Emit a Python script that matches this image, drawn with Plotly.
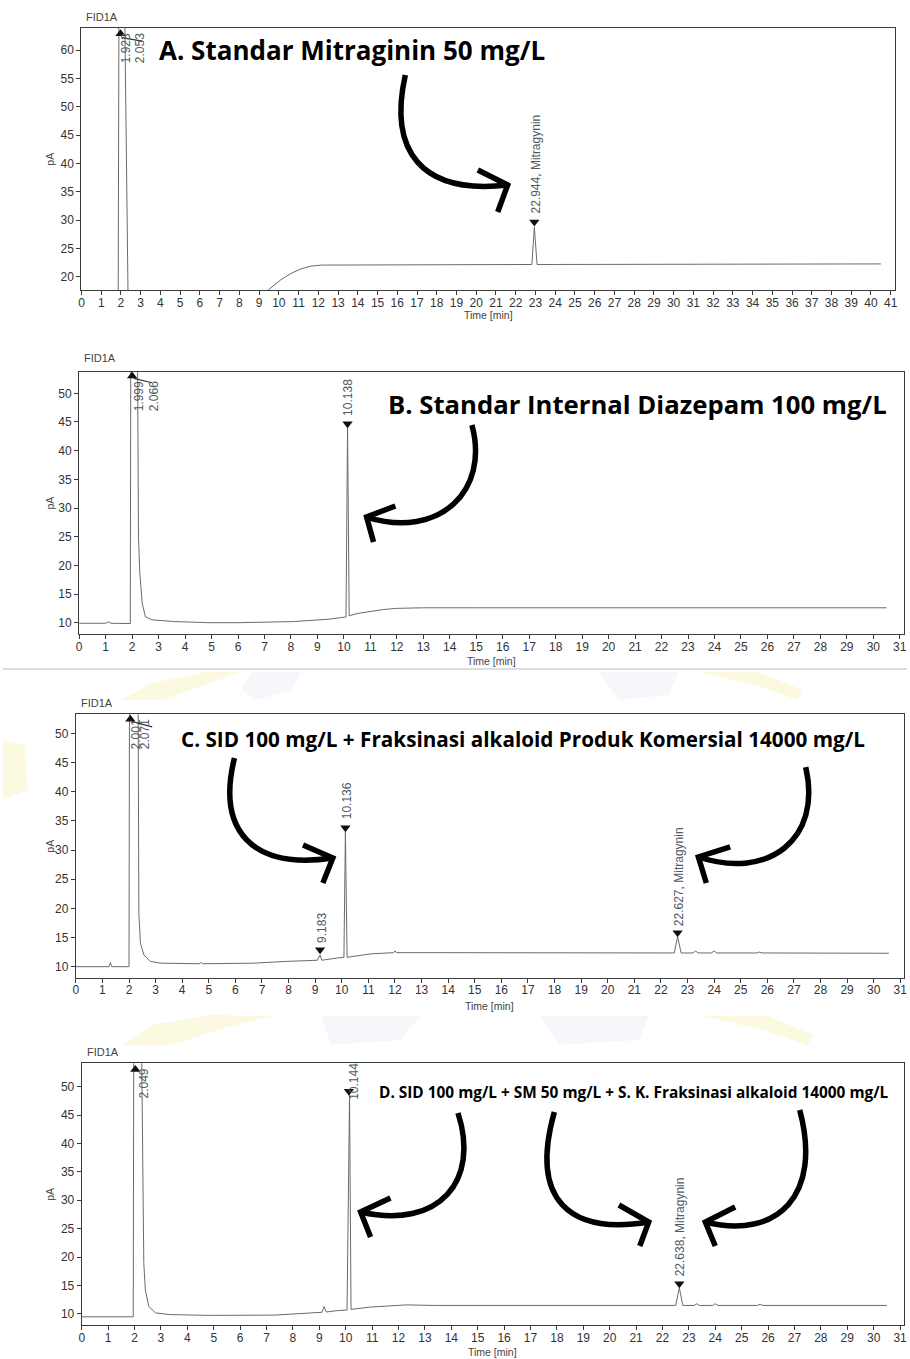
import plotly.graph_objects as go

W, H = 910, 1359

# ---------------- data ----------------
# Panel A: Standar Mitraginin 50 mg/L
tA = [0, 1.86, 1.90, 2.18, 2.36, 9.0, 9.46, 10.1, 10.6, 11.1, 11.6, 12.2, 13.0, 14.0, 16.0,
      18.0, 20.0, 22.0, 22.82, 22.944, 23.08, 24.0, 26.0, 30.0, 35.0, 40.5]
yA = [16.5, 16.5, 70, 70, 16.5, 16.5, 17.7, 19.5, 20.6, 21.4, 21.9, 22.1, 22.1, 22.1, 22.1,
      22.2, 22.2, 22.2, 22.2, 28.8, 22.2, 22.2, 22.2, 22.3, 22.3, 22.3]

# Panel B: Standar Internal Diazepam 100 mg/L
tB = [0, 1.0, 1.1, 1.2, 1.93, 1.95, 2.2, 2.24, 2.29, 2.38, 2.5, 2.75, 3.6, 4.9, 6.0, 7.1, 8.1,
      9.4, 10.0, 10.08, 10.138, 10.2, 10.5, 11.0, 11.5, 12.0, 13.0, 15.0, 20.0, 25.0, 30.5]
yB = [9.9, 9.9, 10.15, 9.9, 9.85, 60, 60, 25, 18.7, 13.4, 11.05, 10.5, 10.2, 10.0, 10.0, 10.15,
      10.2, 10.6, 10.9, 11.0, 44.0, 11.2, 11.6, 12.0, 12.3, 12.5, 12.6, 12.6, 12.6, 12.6, 12.6]

# Panel C: SID + Fraksinasi alkaloid Produk Komersial
tC = [0, 1.25, 1.3, 1.35, 2.0, 2.02, 2.34, 2.37, 2.43, 2.56, 2.8, 3.2, 4.65, 4.7, 4.75, 6.7,
      7.9, 9.08, 9.183, 9.25, 9.85, 10.08, 10.136, 10.2, 11.1, 11.8, 11.95, 12.0, 12.05, 13.5,
      15.0, 18.0, 20.0, 22.5, 22.627, 22.76, 23.2, 23.3, 23.4, 23.9, 24.0, 24.1, 25.6, 25.7,
      25.8, 28.0, 30.57]
yC = [10.0, 10.0, 10.7, 10.0, 10.0, 60, 60, 19.1, 14.0, 12.0, 10.9, 10.6, 10.5, 10.75, 10.5, 10.6,
      10.9, 11.1, 12.0, 11.1, 11.5, 11.6, 33.1, 11.6, 12.2, 12.4, 12.4, 12.7, 12.4, 12.4,
      12.4, 12.4, 12.4, 12.35, 15.1, 12.35, 12.35, 12.7, 12.35, 12.35, 12.7, 12.35, 12.35, 12.5,
      12.35, 12.3, 12.3]

# Panel D: SID + SM + S. K. Fraksinasi alkaloid
tD = [0, 1.95, 1.97, 2.26, 2.35, 2.41, 2.54, 2.79, 3.3, 4.8, 7.3, 8.5, 9.1, 9.18, 9.26, 9.7,
      10.05, 10.144, 10.2, 10.9, 11.9, 12.3, 13.4, 15.0, 18.0, 20.0, 22.5, 22.638, 22.77, 23.2,
      23.3, 23.4, 23.9, 24.0, 24.1, 25.6, 25.7, 25.8, 28.0, 30.5]
yD = [9.5, 9.5, 60, 60, 18.9, 14.2, 11.3, 10.2, 9.9, 9.75, 9.8, 10.1, 10.3, 11.3, 10.35, 10.6,
      10.7, 48.6, 10.8, 11.2, 11.5, 11.6, 11.5, 11.5, 11.5, 11.5, 11.5, 14.6, 11.5, 11.5,
      11.8, 11.5, 11.5, 11.8, 11.5, 11.5, 11.7, 11.5, 11.5, 11.5]

# peak markers (time, pA, symbol)
mkA_t, mkA_y, mkA_s = [1.98, 22.944], [62.9, 29.7], ["triangle-up", "triangle-down"]
mkB_t, mkB_y, mkB_s = [2.0, 10.138], [53.0, 44.7], ["triangle-up", "triangle-down"]
mkC_t, mkC_y, mkC_s = [2.05, 9.183, 10.136, 22.627], [52.4, 12.9, 33.8, 15.8], \
    ["triangle-up", "triangle-down", "triangle-down", "triangle-down"]
mkD_t, mkD_y, mkD_s = [2.03, 10.12, 22.638], [53.0, 49.2, 15.3], \
    ["triangle-up", "triangle-down", "triangle-down"]

# peak labels (text, time, pA anchor, anchor side)
labA = [("1.923", 2.23, 63.4, "top"), ("2.053", 2.98, 63.4, "top"),
        ("22.944, Mitragynin", 23.02, 30.9, "bottom")]
labB = [("1.999", 2.25, 52.4, "top"), ("2.066", 2.81, 52.4, "top"),
        ("10.138", 10.17, 45.7, "bottom")]
labC = [("2.001", 2.28, 52.8, "top"), ("2.071", 2.61, 52.8, "top"),
        ("9.183", 9.25, 13.7, "bottom"), ("10.136", 10.21, 34.9, "bottom"),
        ("22.627, Mitragynin", 22.66, 16.6, "bottom")]
labD = [("2.049", 2.35, 53.5, "top"), ("10.144", 10.31, 47.4, "bottom"),
        ("22.638, Mitragynin", 22.65, 16.3, "bottom")]

# leader lines of the first peak
leadA = ([2.06, 3.07], [62.2, 61.6])
leadB = ([2.06, 2.75], [52.6, 51.85])
leadC = ([2.12, 2.87], [52.0, 51.1])

titles = ["A. Standar Mitraginin 50 mg/L",
          "B. Standar Internal Diazepam 100 mg/L",
          "C. SID 100 mg/L + Fraksinasi alkaloid Produk Komersial 14000 mg/L",
          "D. SID 100 mg/L + SM 50 mg/L + S. K. Fraksinasi alkaloid 14000 mg/L"]

# ---------------- layout helpers ----------------
def px(x):
    return x / W

def py(y):
    return 1 - y / H

# panel frames in pixels: left, right, top, bottom ; axis ranges
panels = [
    dict(l=79, r=898, t=28, b=290, xr=[0, 41.22], yr=[17.7, 63.9], yt=list(range(20, 61, 5)),
         xt=list(range(0, 42)), data=(tA, yA), mk=(mkA_t, mkA_y, mkA_s), lab=labA, lead=leadA,
         fid=17, time=315, title=(155, 50, 26)),
    dict(l=76.7, r=907, t=371.7, b=634, xr=[0, 31.16], yr=[8.03, 53.77], yt=list(range(10, 51, 5)),
         xt=list(range(0, 32)), data=(tB, yB), mk=(mkB_t, mkB_y, mkB_s), lab=labB, lead=leadB,
         fid=358, time=661, title=(386, 404, 25.7)),
    dict(l=73.3, r=907, t=714.3, b=977.7, xr=[0, 31.14], yr=[8.11, 53.26], yt=list(range(10, 51, 5)),
         xt=list(range(0, 32)), data=(tC, yC), mk=(mkC_t, mkC_y, mkC_s), lab=labC, lead=leadC,
         fid=703, time=1006, title=(177, 739, 20.7)),
    dict(l=79.3, r=907, t=1063.3, b=1325, xr=[0, 31.15], yr=[8.06, 54.1], yt=list(range(10, 51, 5)),
         xt=list(range(0, 32)), data=(tD, yD), mk=(mkD_t, mkD_y, mkD_s), lab=labD, lead=None,
         fid=1052, time=1352, title=(376, 1092, 15.4)),
]

fig = go.Figure()
annotations = []
shapes = []
AX_COL = "#3a3a3a"
LAB_COL = "#4f5a66"
FONT = "Liberation Sans, Arial, sans-serif"
TFONT = "Open Sans, sans-serif"

def pt(p):
    return f"{px(p[0]):.5f},{py(p[1]):.5f}"

# faint watermark (decorative background logo fragments)
wm_yellow = [
    [(118, 700), (150, 683), (205, 672), (240, 672), (200, 686), (160, 700)],
    [(700, 672), (760, 672), (805, 690), (800, 700), (760, 686)],
    [(0, 740), (22, 745), (25, 790), (0, 800)],
    [(120, 1045), (150, 1025), (210, 1015), (270, 1016), (215, 1030), (170, 1045)],
    [(705, 1016), (770, 1016), (815, 1035), (810, 1045), (765, 1030)],
]
wm_blue = [
    [(250, 672), (300, 672), (290, 690), (255, 700), (240, 690)],
    [(600, 672), (680, 672), (670, 695), (620, 700)],
    [(320, 1016), (420, 1016), (400, 1040), (330, 1045)],
    [(540, 1016), (650, 1016), (640, 1040), (560, 1045)],
]
for poly in wm_yellow:
    shapes.append(dict(type="path", xref="paper", yref="paper", layer="below",
                       path="M " + " L ".join(pt(q) for q in poly) + " Z",
                       fillcolor="rgba(242,226,120,0.22)", line=dict(width=0)))
for poly in wm_blue:
    shapes.append(dict(type="path", xref="paper", yref="paper", layer="below",
                       path="M " + " L ".join(pt(q) for q in poly) + " Z",
                       fillcolor="rgba(170,178,220,0.10)", line=dict(width=0)))

for i, p in enumerate(panels):
    n = "" if i == 0 else str(i + 1)
    xa, ya = "x" + n, "y" + n
    t, v = p["data"]
    fig.add_trace(go.Scatter(x=t, y=v, mode="lines", xaxis=xa, yaxis=ya,
                             line=dict(color="#6b6b6b", width=1), hoverinfo="skip",
                             showlegend=False))
    if p["lead"]:
        fig.add_trace(go.Scatter(x=p["lead"][0], y=p["lead"][1], mode="lines", xaxis=xa, yaxis=ya,
                                 line=dict(color="#333", width=1.2), showlegend=False))
    mt, my, ms = p["mk"]
    fig.add_trace(go.Scatter(x=mt, y=my, mode="markers", xaxis=xa, yaxis=ya,
                             marker=dict(symbol=ms, size=9, color="#111"),
                             cliponaxis=False, showlegend=False))
    for txt, lx, ly, side in p["lab"]:
        annotations.append(dict(text=txt, x=lx, y=ly, xref=xa, yref=ya, showarrow=False,
                                textangle=-90, xanchor="center", yanchor=side,
                                font=dict(family=FONT, size=12, color=LAB_COL)))
    axis_common = dict(showline=True, linecolor=AX_COL, linewidth=1.2, mirror=True,
                       ticks="outside", ticklen=4, tickcolor=AX_COL, showgrid=False,
                       zeroline=False, tickfont=dict(family=FONT, size=12, color="#333"),
                       fixedrange=True)
    fig.update_layout(**{
        ("xaxis" + n): dict(domain=[px(p["l"]), px(p["r"])], range=p["xr"], tickvals=p["xt"],
                            anchor=ya, ticklabelstandoff=-3, **axis_common),
        ("yaxis" + n): dict(domain=[py(p["b"]), py(p["t"])], range=p["yr"], tickvals=p["yt"],
                            anchor=xa, **axis_common),
    })
    # FID1A, axis titles
    annotations.append(dict(text="FID1A", x=px(p["l"] + 3), y=py(p["fid"]), xref="paper",
                            yref="paper", showarrow=False, xanchor="left", yanchor="middle",
                            font=dict(family=FONT, size=11, color="#444")))
    annotations.append(dict(text="Time [min]", x=px((p["l"] + p["r"]) / 2), y=py(p["time"]),
                            xref="paper", yref="paper", showarrow=False, xanchor="center",
                            yanchor="middle", font=dict(family=FONT, size=10.5, color="#444")))
    annotations.append(dict(text="pA", x=px(47), y=py((p["t"] + p["b"]) / 2), xref="paper",
                            yref="paper", showarrow=False, textangle=-90, xanchor="center",
                            yanchor="middle", font=dict(family=FONT, size=10.5, color="#444")))
    tx, ty, ts = p["title"]
    annotations.append(dict(text="<b>" + titles[i] + "</b>", x=px(tx), y=py(ty), xref="paper",
                            yref="paper", showarrow=False, xanchor="left", yanchor="middle",
                            font=dict(family=TFONT, size=ts, color="#000")))

# ---------------- curved arrows (decoration, pixel coords) ----------------
arrows = [
    ((405, 75), (388, 150), (420, 195), (508, 185), (478, 170), (498, 212)),
    ((472, 425), (490, 490), (440, 540), (366, 517), (395, 506), (373, 542)),
    ((233, 758), (215, 830), (250, 870), (332, 858), (302, 845), (322, 883)),
    ((808, 767), (825, 840), (770, 880), (700, 857), (732, 847), (708, 883)),
    ((458, 1113), (480, 1180), (440, 1230), (360, 1212), (390, 1198), (370, 1237)),
    ((555, 1112), (530, 1200), (570, 1235), (650, 1222), (620, 1205), (641, 1246)),
    ((802, 1110), (825, 1195), (780, 1240), (707, 1222), (737, 1207), (717, 1246)),
]

for a0, c1, c2, a1, h1, h2 in arrows:
    shapes.append(dict(type="path", xref="paper", yref="paper",
                       path=f"M {pt(a0)} C {pt(c1)} {pt(c2)} {pt(a1)}",
                       line=dict(color="#000", width=5.5), layer="above"))
    shapes.append(dict(type="path", xref="paper", yref="paper",
                       path=f"M {pt(h1)} L {pt(a1)} L {pt(h2)}",
                       line=dict(color="#000", width=5.5), layer="above"))

# separator line between panel images
shapes.append(dict(type="line", xref="paper", yref="paper", x0=0, x1=1, y0=py(669), y1=py(669),
                   line=dict(color="#bbbbbb", width=1)))

fig.update_layout(width=W, height=H, margin=dict(l=0, r=0, t=0, b=0),
                  paper_bgcolor="white", plot_bgcolor="white",
                  annotations=annotations, shapes=shapes, showlegend=False)

fig.write_html("out.html", config={"displayModeBar": False},
               post_script="document.body.style.margin='0px';document.body.style.overflow='hidden';")
